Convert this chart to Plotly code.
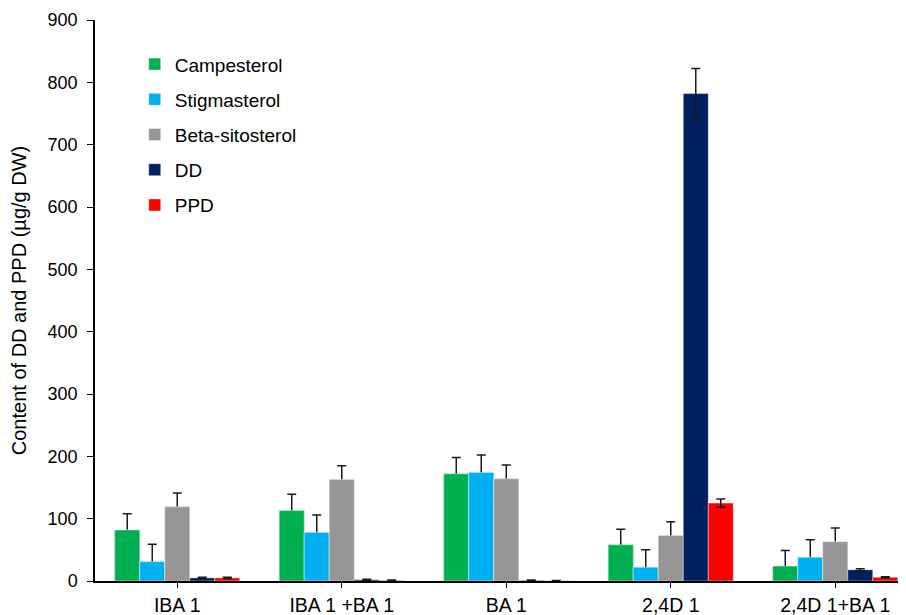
import plotly.graph_objects as go

categories = ["IBA 1", "IBA 1 +BA 1", "BA 1", "2,4D 1", "2,4D 1+BA 1"]
series_names = ["Campesterol", "Stigmasterol", "Beta-sitosterol", "DD", "PPD"]
campesterol = [82, 113, 172, 58, 24]
campesterol_err = [26, 26, 26, 25, 25]
stigmasterol = [31, 78, 174, 22, 38]
stigmasterol_err = [28, 28, 28, 28, 28]
sitosterol = [119, 163, 164, 73, 63]
sitosterol_err = [22, 22, 22, 22, 22]
dd = [5, 2, 1, 782, 18]
dd_err = [1, 1, 0.5, 40, 1.5]
ppd = [5, 1, 0.5, 125, 6]
ppd_err = [1, 0.5, 0.3, 6.5, 1]
colors = ["#00B050", "#00B0F0", "#969696", "#002060", "#FF0000"]

values = [campesterol, stigmasterol, sitosterol, dd, ppd]
errors = [campesterol_err, stigmasterol_err, sitosterol_err, dd_err, ppd_err]
cover_lower_half = [True, True, True, False, False]

FONT = "Liberation Sans, Arial, sans-serif"
xs = list(range(len(categories)))

fig = go.Figure()
for i, name in enumerate(series_names):
    fig.add_trace(go.Bar(
        x=xs, y=values[i], name=name, offsetgroup=str(i), legendgroup=name,
        marker=dict(color=colors[i], line=dict(width=0.6, color="rgba(255,255,255,0.7)")),
        error_y=dict(type="data", array=errors[i], color="#1a1a1a", thickness=1.5, width=4.5, visible=True),
    ))
    if cover_lower_half[i]:
        # same bar drawn again on top so only the upper half of the error bar shows
        fig.add_trace(go.Bar(
            x=xs, y=values[i], name=name, offsetgroup=str(i), legendgroup=name, showlegend=False,
            marker=dict(color=colors[i], line=dict(width=0.6, color="rgba(255,255,255,0.7)")),
            hoverinfo="skip",
        ))

# the page body has an 8px default margin, so the figure is 8px smaller on each side
fig.update_layout(
    width=898, height=607,
    paper_bgcolor="white", plot_bgcolor="white",
    barmode="group", bargap=0.24, bargroupgap=0,
    margin=dict(l=87, r=0, t=12, b=34, autoexpand=False),
    font=dict(family=FONT, size=16, color="black"),
    showlegend=True,
    legend=dict(x=0.049, y=0.955, xanchor="left", yanchor="top",
                bgcolor="rgba(0,0,0,0)", font=dict(size=19),
                traceorder="grouped", tracegroupgap=7.5, itemwidth=30),
)
fig.update_xaxes(
    range=[-0.5, 4.43], tickmode="array", tickvals=xs, ticktext=categories,
    showline=True, linecolor="black", linewidth=1.5, ticks="outside", ticklen=5,
    tickson="boundaries", tickcolor="black", tickfont=dict(size=19.5), showgrid=False, zeroline=False,
    automargin=False, ticklabelstandoff=1,
)
fig.update_yaxes(
    range=[0, 900], tick0=0, dtick=100, showline=True, linecolor="black", linewidth=1.5,
    ticks="outside", ticklen=6, tickcolor="black", tickfont=dict(size=18), showgrid=False, zeroline=False,
    automargin=False, ticklabelstandoff=6,
    title=dict(text="Content of DD and PPD (µg/g DW)", font=dict(size=20), standoff=18),
)
fig.write_html("out.html")
